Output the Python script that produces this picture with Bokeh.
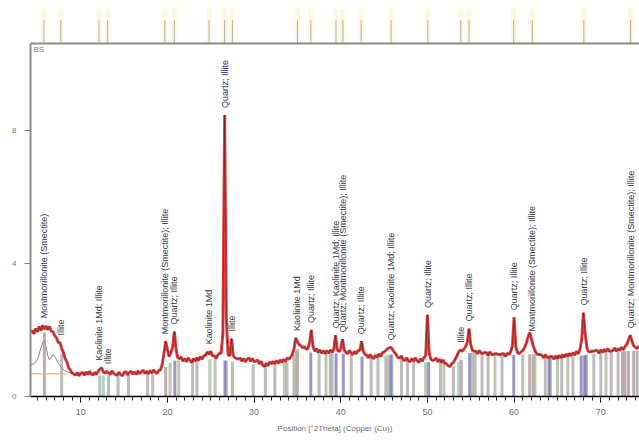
import numpy as np
from bokeh.plotting import figure
from bokeh.models import FixedTicker, Span, Label, ColumnDataSource
from bokeh.core.properties import value
from bokeh.embed import file_html
from bokeh.resources import INLINE

# ---------------- data ----------------
scan_start = 4.2
scan_step = 0.2
counts = [
    1.92, 1.98, 1.88, 2.04, 1.94, 2.10, 1.98, 2.14, 2.02, 2.12,
    2.00, 2.10, 1.96, 1.94, 1.82, 1.76, 1.62, 1.62, 1.44, 1.32,
    1.14, 1.04, 0.86, 0.80, 0.70, 0.68, 0.64, 0.72, 0.62, 0.70,
    0.72, 0.64, 0.74, 0.66, 0.76, 0.68, 0.64, 0.73, 0.66, 0.75,
    0.82, 0.86, 0.74, 0.70, 0.76, 0.70, 0.67, 0.77, 0.69, 0.66,
    0.64, 0.73, 0.66, 0.62, 0.72, 0.75, 0.65, 0.72, 0.76, 0.67,
    0.74, 0.66, 0.77, 0.68, 0.75, 0.79, 0.69, 0.76, 0.68, 0.78,
    0.70, 0.80, 0.72, 0.69, 0.78, 0.80, 0.96, 1.30, 1.66, 1.40,
    1.20, 1.32, 1.48, 1.95, 1.40, 1.16, 1.14, 1.18, 1.06, 1.14,
    1.04, 1.16, 1.08, 1.02, 1.14, 1.06, 1.17, 1.08, 1.20, 1.12,
    1.22, 1.24, 1.34, 1.26, 1.36, 1.22, 1.22, 1.14, 1.24, 1.30,
    1.30, 1.90, 8.45, 2.30, 1.26, 1.22, 1.74, 1.22, 1.16, 1.14,
    1.12, 1.16, 1.06, 1.14, 1.04, 1.12, 1.16, 1.06, 1.14, 1.04,
    1.06, 1.10, 0.98, 1.06, 0.94, 0.90, 1.00, 0.92, 1.04, 0.98,
    1.06, 0.98, 1.08, 1.00, 1.10, 1.02, 1.12, 1.04, 1.16, 1.12,
    1.18, 1.26, 1.42, 1.76, 1.64, 1.56, 1.52, 1.46, 1.50, 1.42,
    1.44, 1.62, 2.00, 1.50, 1.36, 1.44, 1.32, 1.40, 1.30, 1.38,
    1.28, 1.38, 1.30, 1.40, 1.32, 1.42, 1.84, 1.40, 1.34, 1.44,
    1.72, 1.40, 1.32, 1.28, 1.38, 1.30, 1.26, 1.36, 1.28, 1.38,
    1.38, 1.66, 1.36, 1.26, 1.24, 1.16, 1.26, 1.18, 1.14, 1.24,
    1.18, 1.28, 1.20, 1.32, 1.34, 1.38, 1.44, 1.46, 1.48, 1.40,
    1.32, 1.26, 1.16, 1.16, 1.22, 1.10, 1.08, 1.16, 1.08, 1.04,
    1.14, 1.06, 1.16, 1.08, 1.02, 1.14, 1.06, 1.16, 1.24, 2.45,
    1.30, 1.12, 1.08, 1.10, 1.16, 1.04, 1.12, 1.02, 1.10, 1.00,
    0.98, 0.92, 0.90, 0.98, 1.02, 1.12, 1.22, 1.34, 1.40, 1.36,
    1.42, 1.50, 1.62, 2.04, 1.56, 1.38, 1.36, 1.36, 1.28, 1.38,
    1.30, 1.30, 1.32, 1.32, 1.24, 1.34, 1.26, 1.26, 1.28, 1.28,
    1.26, 1.26, 1.28, 1.28, 1.20, 1.30, 1.26, 1.34, 1.52, 2.38,
    1.48, 1.32, 1.28, 1.34, 1.38, 1.46, 1.60, 1.78, 1.92, 1.74,
    1.52, 1.38, 1.28, 1.26, 1.26, 1.24, 1.16, 1.26, 1.18, 1.18,
    1.20, 1.20, 1.12, 1.22, 1.14, 1.24, 1.16, 1.26, 1.18, 1.28,
    1.20, 1.30, 1.22, 1.32, 1.24, 1.36, 1.28, 1.42, 1.70, 2.52,
    1.90, 1.46, 1.34, 1.34, 1.36, 1.36, 1.38, 1.38, 1.30, 1.40,
    1.32, 1.42, 1.34, 1.44, 1.36, 1.36, 1.38, 1.46, 1.36, 1.44,
    1.38, 1.48, 1.40, 1.50, 1.56, 1.70, 1.84, 1.66, 1.52, 1.48,
    1.44, 1.50, 1.46,
]
two_theta = np.round(scan_start + scan_step * np.arange(len(counts)), 2)

# low-angle phase profile and its level line
profile_pos = [4.2, 4.6, 5.0, 5.4, 5.6, 5.8, 6.0, 6.2, 6.4, 6.6, 6.8, 7.0, 7.4, 7.8, 8.2, 8.6, 9.0]
profile_val = [0.95, 0.98, 1.10, 1.45, 1.62, 1.66, 1.50, 1.22, 1.10, 1.18, 1.26, 1.20, 1.00, 0.86, 0.76, 0.72, 0.70]
level_pos = [4.2, 8.4]
level_val = [0.68, 0.68]

# background level (for reference sticks)
bg_pos = [4.2, 5.0, 6.0, 7.0, 8.0, 9.0, 12, 19, 20.5, 25, 28, 31, 34, 35, 37, 40, 44, 46, 48, 52, 53, 55, 58, 62, 66, 70, 74.6]
bg_val = [1.85, 1.95, 1.95, 1.70, 1.20, 0.66, 0.66, 0.70, 1.10, 1.15, 1.08, 0.95, 1.05, 1.45, 1.32, 1.32, 1.18, 1.30, 1.08, 1.04, 0.94, 1.36, 1.26, 1.30, 1.20, 1.34, 1.42]

# reference pattern sticks per phase
quartz_pos = [20.86, 26.64, 36.54, 39.46, 40.29, 42.45, 45.79, 50.14, 54.87, 59.96, 64.03, 67.74, 68.14, 68.32]
illite_pos = [7.8, 13.2, 14.3, 15.5, 17.7, 22.9, 23.4, 26.8, 27.5, 29.9, 31.3, 32.4, 33.8, 34.6, 37.5, 38.8,
              41.2, 43.5, 44.3, 45.2, 47.0, 47.7, 48.4, 51.5, 53.0, 55.5, 56.3, 57.0, 58.6, 61.0, 63.6,
              65.5, 66.8, 69.2, 70.0, 71.2, 72.0, 74.2]
kaolinite_pos = [12.2, 18.3, 20.3, 21.3, 24.9, 25.5, 33.5, 34.9, 38.3, 39.0, 45.5, 49.8, 51.9, 55.2, 57.8,
                 62.4, 64.2, 65.0, 66.2, 70.6]
montmorillonite_pos = [5.8, 19.8, 35.0, 53.9, 61.8, 62.2, 72.5, 72.8, 73.2, 73.8]
calcite_pos = [12.6, 45.9, 53.6]

# peak list (labels + markers)
peak_pos = [5.75, 7.7, 12.1, 13.1, 19.7, 20.8, 24.8, 26.6, 27.5, 35.0, 36.55, 39.45, 40.25, 42.35,
            45.8, 50.05, 53.85, 54.8, 59.95, 62.1, 68.05, 73.45]
peak_text = [
    "Montmorillonite (Smectite)", "Illite", "Kaolinite 1Md; Illite", "Illite",
    "Montmorillonite (Smectite); Illite", "Quartz; Illite", "Kaolinite 1Md", "Quartz; Illite",
    "Illite", "Kaolinite 1Md", "Quartz; Illite", "Quartz; Kaolinite 1Md; Illite",
    "Quartz; Montmorillonite (Smectite); Illite", "Quartz; Illite", "Quartz; Kaolinite 1Md; Illite",
    "Quartz; Illite", "Illite", "Quartz; Illite", "Quartz; Illite",
    "Montmorillonite (Smectite); Illite", "Quartz; Illite", "Quartz; Montmorillonite (Smectite); Illite",
]

y_ticks = [0, 4, 8]
x_ticks = [10, 20, 30, 40, 50, 60, 70]

# ---------------- figure ----------------
x_start, x_end = 4.2, 74.47
frame_top = 10.6
strip_top = 11.65

p = figure(width=639, height=440, output_backend="svg", toolbar_location=None,
           x_range=(x_start, x_end), y_range=(0, strip_top),
           min_border_left=30, min_border_right=0, min_border_top=8, min_border_bottom=44)
p.outline_line_color = None
p.xgrid.visible = False
p.ygrid.visible = False
p.background_fill_color = "white"
p.border_fill_color = "white"

FONT = "Liberation Sans"

# peak marker strip above frame
p.segment(x0=peak_pos, y0=frame_top, x1=peak_pos, y1=strip_top,
          line_color="#fcf3d2", line_width=5, line_alpha=0.7)
p.segment(x0=peak_pos, y0=frame_top, x1=peak_pos, y1=11.3, line_color="#b4b0a4", line_width=1)

# reference sticks
phases = [
    (montmorillonite_pos, "#b09090"),
    (kaolinite_pos, "#a4b496"),
    (illite_pos, "#a6a6a6"),
    (calcite_pos, "#8cc4cc"),
    (quartz_pos, "#7c70b4"),
]
for pos, col in phases:
    tops = np.interp(pos, bg_pos, bg_val) - 0.03
    p.segment(x0=pos, y0=[0] * len(pos), x1=pos, y1=tops, line_color=col, line_width=3, line_alpha=0.75)

# low-angle profile + level
p.line(profile_pos, profile_val, line_color="#8a8a8a", line_width=1)
p.line(level_pos, level_val, line_color="#d8a878", line_width=1)

# observed pattern
p.line(two_theta, counts, line_color="#dc2222", line_width=3, line_alpha=0.85)
p.line(two_theta, counts, line_color="#401010", line_width=0.8, line_alpha=0.6)

# labels above peaks
tt = np.array(two_theta)
cc = np.array(counts)
label_y = [float(cc[(tt >= x0 - 0.3) & (tt <= x0 + 0.3)].max()) for x0 in peak_pos]
label_color = ["#3a3a46"] * len(peak_pos)
label_color[7] = "#2a2a80"
src = ColumnDataSource(dict(x=peak_pos, y=label_y, t=peak_text, c=label_color))
p.text(x="x", y="y", text="t", source=src, angle=np.pi / 2, text_align="left",
       text_baseline="middle", text_font=value(FONT), text_font_size="9px",
       text_color="c", y_offset=-7)

# frame lines
p.add_layout(Span(location=frame_top, dimension="width", line_color="#8c8c8c", line_width=2))
p.add_layout(Label(x=x_start, y=frame_top - 0.05, text="BS", text_font=FONT, text_font_size="8px",
                   text_color="#808080", text_baseline="top", x_offset=3))

# axes
xa = p.xaxis[0]
xa.ticker = FixedTicker(ticks=x_ticks, minor_ticks=list(range(5, 75)))
xa.axis_line_color = "#000000"
xa.axis_line_width = 1.5
xa.major_tick_in = 0
xa.major_tick_out = 6
xa.minor_tick_in = 0
xa.minor_tick_out = 4
xa.major_tick_line_color = "#000000"
xa.minor_tick_line_color = "#303030"
xa.major_label_text_font = FONT
xa.major_label_text_font_size = "9px"
xa.major_label_text_color = "#707070"
xa.major_label_standoff = 6
xa.axis_label = "Position [°2Theta] (Copper (Cu))"
xa.axis_label_text_font = FONT
xa.axis_label_text_font_size = "8px"
xa.axis_label_text_font_style = "normal"
xa.axis_label_text_color = "#707070"
xa.axis_label_standoff = 6

ya = p.yaxis[0]
ya.ticker = FixedTicker(ticks=y_ticks)
ya.bounds = (0, frame_top)
ya.axis_line_color = "#8c8c8c"
ya.axis_line_width = 2
ya.major_tick_in = 0
ya.major_tick_out = 6
ya.minor_tick_line_color = None
ya.major_tick_line_color = "#808080"
ya.major_label_text_font = FONT
ya.major_label_text_font_size = "8px"
ya.major_label_text_color = "#808080"
ya.major_label_standoff = 8

open("out.html", "w").write(file_html(p, INLINE))
